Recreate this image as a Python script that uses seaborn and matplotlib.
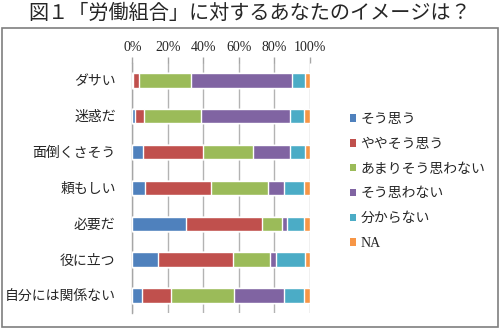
import matplotlib
matplotlib.use('Agg')
import matplotlib.pyplot as plt
import seaborn as sns
import pandas as pd
from matplotlib.patches import Rectangle, Patch
from matplotlib.ticker import FixedLocator

# ---- data ----
title = "図１「労働組合」に対するあなたのイメージは？"
categories = ["ダサい", "迷惑だ", "面倒くさそう", "頼もしい", "必要だ", "役に立つ", "自分には関係ない"]
series = ["そう思う", "ややそう思う", "あまりそう思わない", "そう思わない", "分からない", "NA"]
agree = [0.6, 1.7, 5.8, 7.1, 30.1, 14.5, 5.3]
somewhat_agree = [3.3, 4.9, 34.2, 37.3, 43.2, 42.3, 16.3]
not_really = [29.2, 32.1, 28.0, 31.9, 10.9, 20.6, 35.5]
disagree = [56.7, 50.4, 21.1, 9.0, 3.0, 3.8, 28.2]
dont_know = [7.8, 7.9, 8.5, 11.7, 9.8, 16.4, 11.7]
na = [2.4, 3.0, 2.4, 3.0, 3.0, 2.4, 3.0]
xticks = [0, 20, 40, 60, 80, 100]
xticklabels = ["0%", "20%", "40%", "60%", "80%", "100%"]
colors = ["#4F81BD", "#C0504D", "#9BBB59", "#8064A2", "#4BACC6", "#F79646"]

values = [agree, somewhat_agree, not_really, disagree, dont_know, na]
df = pd.DataFrame({s: v for s, v in zip(series, values)}, index=categories)
cum = df.cumsum(axis=1)

sns.set_style("white")
plt.rcParams['font.family'] = ['Liberation Serif', 'Noto Sans CJK JP']

fig = plt.figure(figsize=(5, 3.28), dpi=100)
ax = fig.add_axes([132.3 / 500, 1 - 313.3 / 328, 177.4 / 500, (313.3 - 62.5) / 328])

for i in range(len(series) - 1, -1, -1):
    s = series[i]
    d = pd.DataFrame({"cat": categories, "val": cum[s].values})
    sns.barplot(data=d, y="cat", x="val", order=categories, orient="h",
                color=colors[i], width=0.4, saturation=1, ax=ax, zorder=3)

ax.set_xlim(0, 100)
ax.set_ylim(len(categories) - 0.5, -0.5)
ax.set_xlabel("")
ax.set_ylabel("")
ax.xaxis.tick_top()
ax.set_xticks(xticks)
ax.set_xticklabels(xticklabels, fontsize=10)
ax.tick_params(axis='x', which='major', direction='out', length=4, color='#a6a6a6',
               width=1, pad=2)
ax.tick_params(axis='y', which='major', length=0, pad=12, labelsize=10)
ax.yaxis.set_minor_locator(FixedLocator([i - 0.5 for i in range(len(categories) + 1)]))
ax.tick_params(axis='y', which='minor', direction='out', length=4, color='#a6a6a6', width=1)
ax.grid(axis='x', color='#b3b3b3', linewidth=1, zorder=0)
ax.grid(axis='y', visible=False)
ax.set_axisbelow(True)
for sp in ['top', 'right', 'bottom']:
    ax.spines[sp].set_visible(False)
ax.spines['left'].set_color('#a6a6a6')
ax.spines['left'].set_linewidth(1)

handles = [Patch(facecolor=c, edgecolor='none') for c in colors]
fig.legend(handles, series, loc='upper left', bbox_to_anchor=(350 / 500, 1 - 113 / 328),
           frameon=False, fontsize=10, handlelength=0.45, handleheight=0.45,
           handletextpad=0.3, labelspacing=0.85, borderpad=0, borderaxespad=0)

fig.text(0.5, 1 - 13 / 328, title, ha='center', va='center', fontsize=14.5,
         family=['Noto Sans CJK JP', 'DejaVu Sans'])

fig.patches.append(Rectangle((2 / 500, 1 - 327 / 328), 496 / 500, 299 / 328,
                             transform=fig.transFigure, fill=False,
                             edgecolor='#7f7f7f', linewidth=1.2))

fig.savefig("out.png", dpi=100)
